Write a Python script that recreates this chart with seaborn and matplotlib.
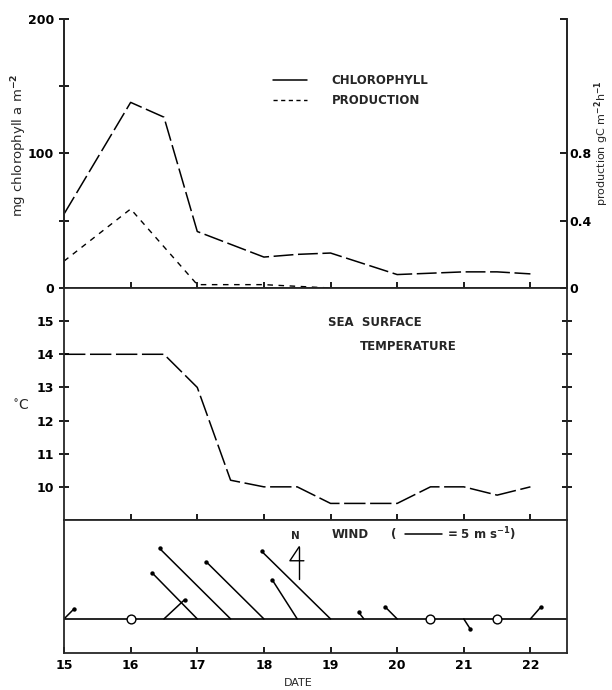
import matplotlib.pyplot as plt
import numpy as np
import pandas as pd
import seaborn as sns

# Chlorophyll (mg m-2) and production (gC m-2 h-1), top panel
chl_date = [15, 16, 16.5, 17, 18, 18.5, 19, 20, 21, 21.5, 22]
chl_value = [55, 138, 127, 42, 23, 25, 26, 10, 12, 12, 10.5]
prod_date = [15, 16, 17, 18, 18.5, 19]
prod_value = [0.16, 0.47, 0.02, 0.02, 0.01, 0.0]

# Sea surface temperature (deg C), middle panel
sst_date = [15, 16, 16.5, 17, 17.5, 18, 18.5, 19, 20, 20.5, 21, 21.5, 22]
sst_value = [14, 14, 14, 13, 10.2, 10, 10, 9.5, 9.5, 10, 10, 9.75, 10]

# Wind components (m s-1), bottom panel; 0,0 = calm
wind_date = [15, 16, 16.5, 17, 17.5, 18, 18.5, 19, 19.5, 20, 20.5, 21, 21.5, 22]
wind_u = [1.4, 0, 2.8, -6.1, -9.6, -7.8, -3.4, -9.3, -0.7, -1.6, 0, 0.9, 0, 1.4]
wind_v = [1.4, 0, 2.6, 6.2, 9.5, 7.7, 5.3, 9.1, 0.9, 1.6, 0, -1.4, 0, 1.6]

date_ticks = [15, 16, 17, 18, 19, 20, 21, 22]

sns.set_theme(style="ticks")
plt.rcParams['font.family'] = ['DejaVu Sans']
plt.rcParams['axes.linewidth'] = 1.3
plt.rcParams['xtick.color'] = 'black'
plt.rcParams['ytick.color'] = 'black'
plt.rcParams['font.weight'] = 'bold'

fig = plt.figure(figsize=(6.12, 6.90), dpi=100)
L, W = 0.1046, 0.822
ax1 = fig.add_axes([L, 0.5826, W, 0.3899])
ax2 = fig.add_axes([L, 0.2464, W, 0.3362])
ax3 = fig.add_axes([L, 0.0536, W, 0.1928])
xmin, xmax = 15, 22.55
fs = 9
cap = 8.5

# ---- top panel
df_chl = pd.DataFrame({'date': chl_date, 'chl': chl_value})
df_prod = pd.DataFrame({'date': prod_date, 'prod': prod_value})
sns.lineplot(data=df_chl, x='date', y='chl', ax=ax1, color='black', lw=1.1,
             linestyle=(0, (13, 3)))
ax1.set_xlim(xmin, xmax)
ax1.set_ylim(0, 200)
ax1.set_yticks([0, 50, 100, 150, 200])
ax1.set_yticklabels(['0', '', '100', '', '200'], fontsize=fs)
ax1.set_xticks(date_ticks[1:])
ax1.set_xticklabels([])
ax1.tick_params(axis='x', direction='in', length=4)
ax1.tick_params(axis='y', direction='inout', length=7)
ax1.spines['top'].set_visible(False)
ax1.set_xlabel('')
ax1.set_ylabel('mg chlorophyll a m$^{-2}$', fontsize=9.5, fontweight='normal')
ax1.yaxis.set_label_coords(-0.07, 0.53)

axp = ax1.twinx()
sns.lineplot(data=df_prod, x='date', y='prod', ax=axp, color='black', lw=1.0,
             linestyle=(0, (4, 4)))
axp.set_ylim(0, 1.6)
axp.set_yticks([0, 0.4, 0.8, 1.6])
axp.set_yticklabels(['0', '0.4', '0.8', ''], fontsize=fs)
axp.tick_params(axis='y', direction='in', length=5, pad=2)
axp.spines['top'].set_visible(False)
axp.set_ylabel('production gC m$^{-2}$h$^{-1}$', fontsize=8, fontweight='normal')
axp.yaxis.set_label_coords(1.05, 0.54)
axp.set_xlabel('')

# legend drawn as plain lines + text, placed like the original
ax1.plot([18.14, 18.65], [154.5, 154.5], color='black', lw=1.1)
ax1.text(19.02, 154.5, 'CHLOROPHYLL', fontsize=cap, va='center')
ax1.plot([18.14, 18.65], [139.5, 139.5], color='black', lw=1.0, linestyle=(0, (3, 2.5)))
ax1.text(19.02, 139.5, 'PRODUCTION', fontsize=cap, va='center')

# ---- middle panel
df_sst = pd.DataFrame({'date': sst_date, 'sst': sst_value})
sns.lineplot(data=df_sst, x='date', y='sst', ax=ax2, color='black', lw=1.1,
             linestyle=(0, (14, 3)))
ax2.set_xlim(xmin, xmax)
ax2.set_ylim(9, 16)
ax2.set_yticks([10, 11, 12, 13, 14, 15])
ax2.set_yticklabels(['10', '11', '12', '13', '14', '15'], fontsize=fs)
ax2.tick_params(axis='y', direction='inout', length=7, right=True)
ax2.set_xticks(date_ticks[1:])
ax2.set_xticklabels([])
ax2.tick_params(axis='x', direction='in', length=4)
ax2.spines['top'].set_visible(False)
ax2.set_xlabel('')
ax2.set_ylabel('$^{\\circ}$C', fontsize=fs + 1, rotation=0, fontweight='normal')
ax2.yaxis.set_label_coords(-0.085, 0.46)
ax2.text(18.96, 14.95, 'SEA  SURFACE', fontsize=cap, va='center')
ax2.text(19.44, 14.25, 'TEMPERATURE', fontsize=cap, va='center')

# ---- wind panel: sticks drawn in "day" units so both directions share a scale
ylo, yhi = -0.51, 1.48
scale = 0.111  # days per m s-1
ax3.set_xlim(xmin, xmax)
ax3.set_ylim(ylo, yhi)
ax3.axhline(0, color='black', lw=1.2)
df_w = pd.DataFrame({'date': wind_date, 'u': wind_u, 'v': wind_v})
df_w['x1'] = df_w['date'] + df_w['u'] * scale
df_w['y1'] = df_w['v'] * scale
calm = df_w[(df_w['u'] == 0) & (df_w['v'] == 0)]
moving = df_w[(df_w['u'] != 0) | (df_w['v'] != 0)]
for _, r in moving.iterrows():
    ax3.plot([r['date'], r['x1']], [0, r['y1']], color='black', lw=1.1)
sns.scatterplot(data=moving, x='x1', y='y1', ax=ax3, color='black', s=10,
                edgecolor='black', linewidth=0)
sns.scatterplot(data=calm, x='date', y=0 * calm['date'], ax=ax3, s=40,
                facecolor='white', edgecolor='black', linewidth=1.0, zorder=5)
ax3.set_yticks([])
ax3.set_xticks(date_ticks)
ax3.set_xticklabels([str(d) for d in date_ticks], fontsize=fs)
ax3.tick_params(axis='x', direction='in', length=4, pad=4)
ax3.set_ylabel('')
ax3.set_xlabel('DATE', fontsize=8)
ax3.xaxis.set_label_coords(0.465, -0.19)

ax3.text(19.02, 1.26, 'WIND', fontsize=cap, va='center')
ax3.text(19.9, 1.26, '(', fontsize=cap, va='center')
ax3.plot([20.12, 20.12 + 5 * scale], [1.27, 1.27], color='black', lw=1.1)
ax3.text(20.75, 1.26, '= 5 m s$^{-1}$)', fontsize=cap, va='center')

# north arrow
ax3.plot([18.53, 18.53], [0.59, 1.08], color='black', lw=1.0)
ax3.plot([18.53, 18.39, 18.60], [1.08, 0.87, 0.87], color='black', lw=1.0)
ax3.text(18.47, 1.24, 'N', fontsize=7.5, ha='center', va='center')

fig.savefig('out.png', dpi=100)
